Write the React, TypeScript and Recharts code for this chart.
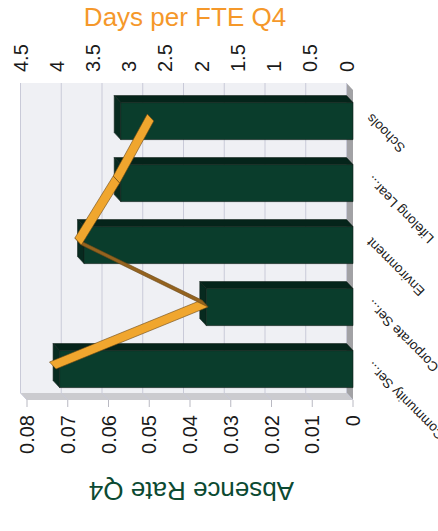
import { ComposedChart, Bar, Line, XAxis, YAxis, CartesianGrid, ReferenceArea, Label } from 'recharts';

const categories = ['Community Ser...', 'Corporate Ser...', 'Environment', 'Lifelong Lear...', 'Schools'];
const absenceRate = [0.072, 0.036, 0.066, 0.057, 0.057];
const daysPerFte = [4.1, 2.0, 3.75, 3.22, 2.75];
const rateTicks = [0, 0.01, 0.02, 0.03, 0.04, 0.05, 0.06, 0.07, 0.08];
const dayTicks = [0, 0.5, 1, 1.5, 2, 2.5, 3, 3.5, 4, 4.5];

const data = categories.map((name, i) => ({ name, rate: absenceRate[i], days: daysPerFte[i] }));

// depth offset of the 3D walls, boxes and ribbon (back plane relative to front)
const DX = 7;
const DY = -6.5;
const FONT = '"Liberation Sans", Arial, Helvetica, sans-serif';

function Walls(props: any) {
  const { x, y, width, height } = props;
  const bottom = y + height;
  return (
    <g>
      <rect x={x + DX} y={y + DY} width={width} height={height} fill="#eff0f4" />
      <polygon
        points={`${x},${y} ${x + DX},${y + DY} ${x + DX},${bottom + DY} ${x},${bottom}`}
        fill="#cbcbcf"
      />
      <polygon
        points={`${x},${bottom} ${x + DX},${bottom + DY} ${x + width + DX},${bottom + DY} ${x + width},${bottom}`}
        fill="#a2a2a5"
      />
    </g>
  );
}

function GridLine(props: any) {
  const { x1, y1, x2, y2 } = props;
  return (
    <path
      d={`M${x1},${y1} L${x1 + DX},${y1 + DY} L${x2 + DX},${y2 + DY}`}
      fill="none"
      stroke="#c9cad8"
      strokeWidth={1}
    />
  );
}

function Box3D(props: any) {
  const { x, y, width, height } = props;
  if (!height) return null;
  const r = x + width;
  const b = y + height;
  return (
    <g stroke="#0f1f18" strokeWidth={0.6} strokeLinejoin="round">
      <polygon points={`${x},${y} ${x + DX},${y + DY} ${r + DX},${y + DY} ${r},${y}`} fill="#072a1f" />
      <polygon points={`${r},${y} ${r + DX},${y + DY} ${r + DX},${b + DY} ${r},${b}`} fill="#05241a" />
      <rect x={x} y={y} width={width} height={height} fill="#0a3d2c" />
    </g>
  );
}

// each dot draws the ribbon piece from its point to the next one
function RibbonSegment(props: any) {
  const { index, points } = props;
  if (!points || index >= points.length - 1) return <g key={`seg-${index}`} />;
  const p = points[index];
  const q = points[index + 1];
  const cross = (q.x - p.x) * DY - (q.y - p.y) * DX;
  const fill = cross < 0 ? '#f0a62e' : '#94631f';
  return (
    <polygon
      key={`seg-${index}`}
      points={`${p.x},${p.y} ${q.x},${q.y} ${q.x + DX},${q.y + DY} ${p.x + DX},${p.y + DY}`}
      fill={fill}
      stroke="#6a4614"
      strokeWidth={0.6}
      strokeLinejoin="round"
    />
  );
}

function RateTick({ x, y, payload }: any) {
  return (
    <text x={x} y={y} dy="0.35em" textAnchor="end" fontSize={20} fontFamily={FONT} fill="#1a1a1a">
      {payload.value}
    </text>
  );
}

function DayTick({ x, y, payload }: any) {
  return (
    <text x={x + DX + 11} y={y + DY} dy="0.35em" textAnchor="start" fontSize={20} fontFamily={FONT} fill="#1a1a1a">
      {payload.value}
    </text>
  );
}

function CategoryTick({ x, y, payload }: any) {
  const ax = x + 8;
  const ay = y + 19;
  return (
    <text
      x={ax}
      y={ay}
      transform={`rotate(-45 ${ax} ${ay})`}
      textAnchor="end"
      fontSize={13.5}
      fontFamily={FONT}
      fill="#1a1a1a"
    >
      {payload.value}
    </text>
  );
}

function AbsenceTitle({ viewBox }: any) {
  const cx = viewBox.x - 31;
  const cy = viewBox.y + viewBox.height / 2 + 1.5;
  return (
    <text
      x={cx}
      y={cy}
      transform={`rotate(-90 ${cx} ${cy})`}
      textAnchor="middle"
      dominantBaseline="central"
      fontSize={26}
      fontFamily={FONT}
      fill="#0c4a32"
    >
      Absence Rate Q4
    </text>
  );
}

function DaysTitle({ viewBox }: any) {
  const cx = viewBox.x + 73;
  const cy = viewBox.y + viewBox.height / 2 + DY + 1.5;
  return (
    <text
      x={cx}
      y={cy}
      transform={`rotate(90 ${cx} ${cy})`}
      textAnchor="middle"
      dominantBaseline="central"
      fontSize={26}
      fontFamily={FONT}
      fill="#f5982a"
    >
      Days per FTE Q4
    </text>
  );
}

export default function App() {
  return (
    <div
      style={{
        position: 'absolute',
        left: 0,
        top: 0,
        width: 531,
        height: 438,
        background: '#fff',
        transformOrigin: '0 0',
        transform: 'translate(0px, 531px) rotate(-90deg)',
      }}
    >
      <ComposedChart
        width={531}
        height={438}
        data={data}
        margin={{ top: 27, right: 30, bottom: 25, left: 71 }}
        barCategoryGap="20%"
      >
        <ReferenceArea yAxisId="rate" y1={0} y2={0.08} shape={Walls} fillOpacity={1} zIndex={-200} />
        <CartesianGrid yAxisId="rate" vertical={false} horizontal={GridLine} />
        <XAxis
          dataKey="name"
          axisLine={false}
          tickLine={false}
          tickSize={0}
          tickMargin={0}
          height={60}
          interval={0}
          tick={CategoryTick}
        />
        <YAxis
          yAxisId="rate"
          domain={[0, 0.08]}
          ticks={rateTicks}
          width={60}
          tickSize={7}
          tickMargin={8}
          axisLine={false}
          tickLine={{ stroke: '#b9b9c2' }}
          tick={RateTick}
        >
          <Label content={AbsenceTitle} />
        </YAxis>
        <YAxis
          yAxisId="days"
          orientation="right"
          domain={[0, 4.5]}
          ticks={dayTicks}
          width={60}
          tickSize={0}
          tickMargin={0}
          axisLine={false}
          tickLine={false}
          tick={DayTick}
        >
          <Label content={DaysTitle} />
        </YAxis>
        <Bar yAxisId="rate" dataKey="rate" shape={Box3D} isAnimationActive={false} />
        <Line
          yAxisId="days"
          dataKey="days"
          stroke="none"
          dot={RibbonSegment}
          activeDot={false}
          isAnimationActive={false}
        />
      </ComposedChart>
    </div>
  );
}
